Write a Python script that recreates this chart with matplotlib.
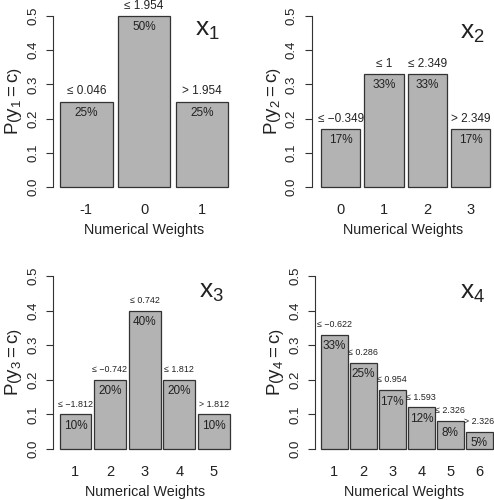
import matplotlib.pyplot as plt
import numpy as np

plt.rcParams['font.family'] = ['Liberation Sans', 'DejaVu Sans']
plt.rcParams['mathtext.fontset'] = 'custom'
plt.rcParams['mathtext.rm'] = 'Liberation Sans'
plt.rcParams['mathtext.it'] = 'Liberation Sans:italic'
plt.rcParams['mathtext.default'] = 'regular'

# x1
weights1 = ['-1', '0', '1']
probs1 = [0.25, 0.50, 0.25]
cuts1 = ['≤ 0.046', '≤ 1.954', '> 1.954']
pcts1 = ['25%', '50%', '25%']

# x2
weights2 = ['0', '1', '2', '3']
probs2 = [0.17, 0.33, 0.33, 0.17]
cuts2 = ['≤ −0.349', '≤ 1', '≤ 2.349', '> 2.349']
pcts2 = ['17%', '33%', '33%', '17%']

# x3
weights3 = ['1', '2', '3', '4', '5']
probs3 = [0.10, 0.20, 0.40, 0.20, 0.10]
cuts3 = ['≤ −1.812', '≤ −0.742', '≤ 0.742', '≤ 1.812', '> 1.812']
pcts3 = ['10%', '20%', '40%', '20%', '10%']

# x4
weights4 = ['1', '2', '3', '4', '5', '6']
probs4 = [0.33, 0.25, 0.17, 0.12, 0.08, 0.05]
cuts4 = ['≤ −0.622', '≤ 0.286', '≤ 0.954', '≤ 1.593', '≤ 2.326', '> 2.326']
pcts4 = ['33%', '25%', '17%', '12%', '8%', '5%']

W, H = 494, 500
fig = plt.figure(figsize=(W / 100, H / 100), dpi=100)


# geometry is given in pixels of the 494x500 picture
def panel(weights, probs, cuts, pcts, k, spine, left, pitch, bw, right, y0, y5, cut_fs, tpos):
    n = len(weights)
    kpx = (y0 - y5) / 0.5
    top = y5 - 0.02 * kpx
    bot = y0 + 0.02 * kpx
    ax = fig.add_axes([spine / W, 1 - bot / H, (right - spine) / W, (bot - top) / H])
    c0 = left + bw / 2
    x = np.arange(n)
    ax.bar(x, probs, width=bw / pitch, color='#b3b3b3', edgecolor='#333333', linewidth=0.9)
    ax.set_xlim((spine - c0) / pitch, (right - c0) / pitch)
    ax.set_ylim(-0.02, 0.52)

    for i in range(n):
        ax.text(x[i], probs[i] + 0.03, cuts[i], ha='center', va='center', fontsize=cut_fs, color='#222222')
        ax.text(x[i], probs[i] - 0.033, pcts[i], ha='center', va='center', fontsize=8.5, color='#222222')

    for s in ['top', 'right', 'bottom']:
        ax.spines[s].set_visible(False)
    ax.spines['left'].set_bounds(0, 0.5)
    ax.spines['left'].set_color('#333333')
    ax.set_yticks([0, 0.1, 0.2, 0.3, 0.4, 0.5])
    ax.set_yticklabels(['0.0', '0.1', '0.2', '0.3', '0.4', '0.5'], rotation=90, va='center')
    ax.tick_params(axis='y', length=5, pad=5, labelsize=9.5, color='#333333', labelcolor='#222222')
    ax.set_xticks(x)
    ax.set_xticklabels(weights)
    ax.tick_params(axis='x', length=0, pad=6.5, labelsize=10.5, labelcolor='#222222')
    ax.set_xlabel('Numerical Weights', fontsize=10.3, labelpad=4.5, color='#222222')
    ax.set_ylabel(r'$P\left(y_%d = c\right)$' % k, fontsize=13.5, labelpad=2, color='#222222')
    ax.text(tpos[0], tpos[1], r'$x_%d$' % k, ha='center', va='center', fontsize=19, color='#222222')
    return ax


panel(weights1, probs1, cuts1, pcts1, 1, 53, 60, 57.75, 52.5, 235, 187, 16, 8.5, (2.1, 0.46))
panel(weights2, probs2, cuts2, pcts2, 2, 311.5, 321, 43.3, 39.3, 494, 187, 16, 8.5, (3.03, 0.45))
panel(weights3, probs3, cuts3, pcts3, 3, 53, 59.5, 34.6, 31.8, 237, 449, 276, 6.4, (3.92, 0.454))
panel(weights4, probs4, cuts4, pcts4, 4, 315, 321, 29.0, 26.6, 494, 449, 276, 6.4, (4.78, 0.45))

fig.savefig('out.png', dpi=100)
